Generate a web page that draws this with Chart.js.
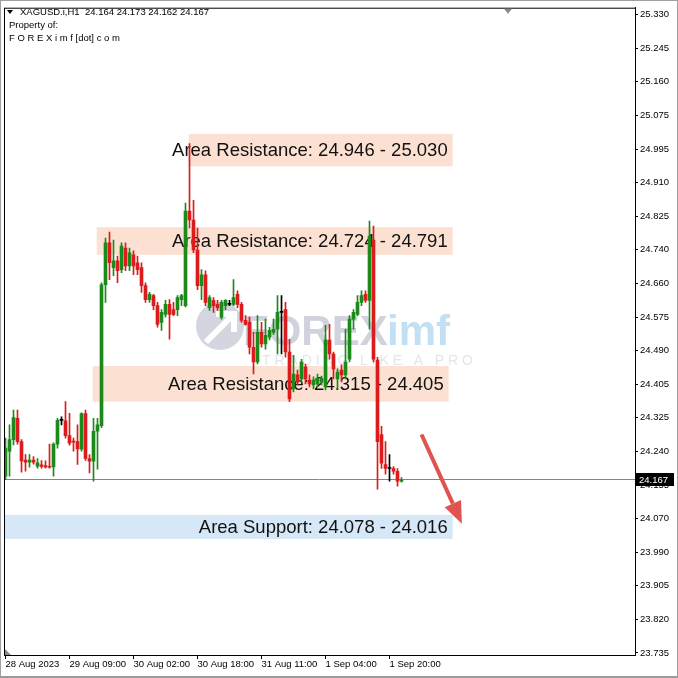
<!DOCTYPE html>
<html>
<head>
<meta charset="utf-8">
<script src="https://cdn.jsdelivr.net/npm/chart.js@4.4.0/dist/chart.umd.min.js"></script>
<style>
  html, body { margin: 0; padding: 0; background: #fff; }
  #wrap { width: 678px; height: 678px; }
</style>
</head>
<body>
<div id="wrap"><canvas id="grafico" width="678" height="678"></canvas></div>
<script>
// XAGUSD H1 - velas leídas a ojo del gráfico (aprox.)
const opens = [
  24.177, 24.239, 24.268, 24.321, 24.263, 24.217, 24.212, 24.217, 24.202, 24.205,
  24.203, 24.201, 24.200, 24.257, 24.316, 24.315, 24.278, 24.263, 24.263, 24.244,
  24.333, 24.221, 24.214, 24.289, 24.303, 24.655, 24.760, 24.698, 24.715, 24.693,
  24.747, 24.702, 24.730, 24.710, 24.698, 24.653, 24.618, 24.628, 24.603, 24.561,
  24.581, 24.606, 24.593, 24.593, 24.618, 24.603, 24.839, 24.817, 24.742, 24.653,
  24.680, 24.598, 24.616, 24.606, 24.574, 24.603, 24.606, 24.606, 24.631, 24.606,
  24.566, 24.561, 24.499, 24.462, 24.536, 24.507, 24.524, 24.536, 24.544, 24.586,
  24.593, 24.487, 24.395, 24.430, 24.420, 24.450, 24.417, 24.405, 24.407, 24.412,
  24.400, 24.517, 24.482, 24.420, 24.442, 24.430, 24.469, 24.569, 24.581, 24.611,
  24.631, 24.616, 24.767, 24.467, 24.281, 24.206, 24.196, 24.196, 24.189, 24.164
];
const highs = [
  24.272, 24.305, 24.342, 24.342, 24.268, 24.231, 24.231, 24.226, 24.221, 24.216,
  24.215, 24.257, 24.260, 24.321, 24.325, 24.363, 24.334, 24.272, 24.305, 24.335,
  24.342, 24.231, 24.321, 24.321, 24.660, 24.772, 24.787, 24.767, 24.727, 24.760,
  24.760, 24.747, 24.740, 24.727, 24.710, 24.660, 24.636, 24.631, 24.611, 24.593,
  24.616, 24.618, 24.611, 24.628, 24.631, 24.859, 25.008, 24.866, 24.797, 24.693,
  24.690, 24.628, 24.623, 24.616, 24.616, 24.618, 24.616, 24.668, 24.640, 24.611,
  24.578, 24.574, 24.536, 24.578, 24.561, 24.569, 24.549, 24.569, 24.628, 24.628,
  24.611, 24.519, 24.479, 24.442, 24.469, 24.457, 24.430, 24.425, 24.432, 24.427,
  24.554, 24.556, 24.487, 24.445, 24.455, 24.544, 24.578, 24.593, 24.628, 24.640,
  24.640, 24.814, 24.802, 24.474, 24.301, 24.263, 24.231, 24.201, 24.196, 24.173
];
const lows = [
  24.168, 24.177, 24.255, 24.257, 24.187, 24.189, 24.199, 24.207, 24.197, 24.197,
  24.197, 24.197, 24.177, 24.247, 24.305, 24.272, 24.254, 24.239, 24.206, 24.239,
  24.216, 24.185, 24.164, 24.194, 24.298, 24.611, 24.668, 24.678, 24.660, 24.685,
  24.690, 24.690, 24.680, 24.680, 24.636, 24.611, 24.611, 24.593, 24.549, 24.541,
  24.574, 24.519, 24.578, 24.578, 24.603, 24.600, 24.797, 24.735, 24.643, 24.618,
  24.603, 24.591, 24.586, 24.591, 24.569, 24.593, 24.603, 24.603, 24.598, 24.561,
  24.554, 24.482, 24.432, 24.457, 24.499, 24.494, 24.517, 24.531, 24.482, 24.482,
  24.474, 24.363, 24.387, 24.405, 24.412, 24.407, 24.400, 24.395, 24.400, 24.405,
  24.392, 24.469, 24.420, 24.395, 24.412, 24.420, 24.462, 24.544, 24.578, 24.603,
  24.611, 24.544, 24.462, 24.144, 24.196, 24.182, 24.164, 24.182, 24.152, 24.162
];
const closes = [
  24.247, 24.268, 24.323, 24.263, 24.215, 24.212, 24.217, 24.212, 24.210, 24.201,
  24.200, 24.199, 24.257, 24.316, 24.316, 24.278, 24.259, 24.262, 24.245, 24.333,
  24.221, 24.214, 24.289, 24.305, 24.655, 24.760, 24.710, 24.715, 24.690, 24.752,
  24.702, 24.735, 24.702, 24.693, 24.653, 24.618, 24.631, 24.603, 24.556, 24.586,
  24.606, 24.581, 24.581, 24.623, 24.628, 24.839, 24.817, 24.742, 24.653, 24.680,
  24.611, 24.623, 24.603, 24.598, 24.611, 24.616, 24.606, 24.623, 24.606, 24.566,
  24.556, 24.499, 24.462, 24.536, 24.507, 24.529, 24.541, 24.544, 24.586, 24.586,
  24.487, 24.370, 24.432, 24.412, 24.462, 24.420, 24.407, 24.417, 24.422, 24.420,
  24.517, 24.482, 24.445, 24.437, 24.430, 24.462, 24.569, 24.586, 24.611, 24.628,
  24.616, 24.777, 24.469, 24.263, 24.209, 24.196, 24.196, 24.189, 24.164, 24.167
];

// eje X (índice de barra) y etiquetas
const xTickIdx = [0, 16, 32, 48, 64, 80, 96];
const xTickLabels = ['28 Aug 2023', '29 Aug 09:00', '30 Aug 02:00', '30 Aug 18:00', '31 Aug 11:00', '1 Sep 04:00', '1 Sep 20:00'];

// eje Y (MT4 redondea, los pasos son iguales en pixeles)
const yTickLabels = ['25.330', '25.245', '25.160', '25.075', '24.995', '24.910', '24.825', '24.740', '24.660', '24.575',
  '24.490', '24.405', '24.325', '24.240', '24.155', '24.070', '23.990', '23.905', '23.820', '23.735'];

// zonas de soporte / resistencia
const zoneTexts = ['Area Resistance: 24.946 - 25.030', 'Area Resistance: 24.724 - 24.791', 'Area Resistance: 24.315 - 24.405', 'Area Support: 24.078 - 24.016'];
const zoneLow = [24.951, 24.730, 24.363, 24.020];
const zoneHigh = [25.032, 24.799, 24.452, 24.080];
const zoneFrom = [45.8, 22.8, 21.8, -0.4];
const zoneTo = [111.8, 111.8, 110.8, 111.8];
const zoneColors = ['#fce1d3', '#fce1d3', '#fce1d3', '#d6e8f7'];

const lastPrice = 24.167;
const arrowX = [104, 114.1];
const arrowY = [24.281, 24.058];

const verde = '#1b8a1b';
const rojo = '#dc1c1c';

function colorVela(i) {
  if (closes[i] > opens[i]) return verde;
  if (closes[i] < opens[i]) return rojo;
  return '#000000';
}

const mechas = opens.map((o, i) => ({ x: i, y: [lows[i], highs[i]] }));
const cuerpos = opens.map((o, i) => ({ x: i, y: [o, closes[i]] }));
const colores = opens.map((o, i) => colorVela(i));

const fuente = '"Liberation Sans", Arial, sans-serif';

const extras = {
  id: 'extras',
  beforeDatasetsDraw(chart) {
    const { ctx, chartArea: a, scales: { x, y } } = chart;
    ctx.save();
    ctx.beginPath();
    ctx.rect(a.left, a.top, a.right - a.left, a.bottom - a.top);
    ctx.clip();

    // marca de agua
    ctx.fillStyle = '#d3d6df';
    ctx.beginPath();
    ctx.arc(220, 326, 24, 0, Math.PI * 2);
    ctx.fill();
    ctx.strokeStyle = '#ffffff';
    ctx.lineWidth = 6;
    ctx.beginPath();
    ctx.moveTo(206, 342);
    ctx.lineTo(232, 316);
    ctx.moveTo(216, 314);
    ctx.lineTo(234, 314);
    ctx.lineTo(234, 332);
    ctx.stroke();
    ctx.font = 'bold 42px ' + fuente;
    ctx.textBaseline = 'alphabetic';
    ctx.textAlign = 'left';
    ctx.fillStyle = '#d0d3dd';
    ctx.fillText('FOREX', 243, 345);
    ctx.fillStyle = '#c2dff3';
    ctx.fillText('imf', 387, 345);
    ctx.font = '14px ' + fuente;
    ctx.fillStyle = '#e3e5ea';
    ctx.fillText('T R A D I N G   L I K E   A   P R O', 262, 365);

    // zonas
    zoneTexts.forEach((t, k) => {
      const x0 = x.getPixelForValue(zoneFrom[k]);
      const x1 = x.getPixelForValue(zoneTo[k]);
      const y0 = y.getPixelForValue(zoneHigh[k]);
      const y1 = y.getPixelForValue(zoneLow[k]);
      ctx.fillStyle = zoneColors[k];
      ctx.fillRect(x0, y0, x1 - x0, y1 - y0);
    });
    ctx.font = '18.5px ' + fuente;
    ctx.textAlign = 'right';
    ctx.textBaseline = 'middle';
    ctx.fillStyle = '#111111';
    zoneTexts.forEach((t, k) => {
      const x1 = x.getPixelForValue(zoneTo[k]);
      const ym = (y.getPixelForValue(zoneHigh[k]) + y.getPixelForValue(zoneLow[k])) / 2;
      ctx.fillText(t, x1 - 5, ym + 1);
    });

    // linea de precio actual
    const yp = Math.floor(y.getPixelForValue(lastPrice)) - 0.5;
    ctx.strokeStyle = '#7a8794';
    ctx.lineWidth = 1;
    ctx.beginPath();
    ctx.moveTo(a.left, yp);
    ctx.lineTo(a.right, yp);
    ctx.stroke();
    ctx.restore();
  },
  afterDatasetsDraw(chart) {
    const { ctx, chartArea: a, scales: { x, y } } = chart;
    ctx.save();
    // flecha roja
    const x0 = x.getPixelForValue(arrowX[0]), y0 = y.getPixelForValue(arrowY[0]);
    const x1 = x.getPixelForValue(arrowX[1]), y1 = y.getPixelForValue(arrowY[1]);
    const ang = Math.atan2(y1 - y0, x1 - x0);
    const largo = 22, ancho = 9;
    const bx = x1 - largo * Math.cos(ang), by = y1 - largo * Math.sin(ang);
    ctx.strokeStyle = '#e05450';
    ctx.fillStyle = '#e05450';
    ctx.lineWidth = 4;
    ctx.beginPath();
    ctx.moveTo(x0, y0);
    ctx.lineTo(bx, by);
    ctx.stroke();
    ctx.beginPath();
    ctx.moveTo(x1, y1);
    ctx.lineTo(bx + ancho * Math.sin(ang), by - ancho * Math.cos(ang));
    ctx.lineTo(bx - ancho * Math.sin(ang), by + ancho * Math.cos(ang));
    ctx.closePath();
    ctx.fill();
    ctx.restore();
  },
  afterDraw(chart) {
    const { ctx, chartArea: a, scales: { y } } = chart;
    ctx.save();
    // marco
    ctx.strokeStyle = '#000000';
    ctx.lineWidth = 1;
    ctx.strokeRect(a.left + 0.5, a.top + 0.5, a.right - a.left, a.bottom - a.top);
    ctx.strokeStyle = '#a0a0a0';
    ctx.strokeRect(0.5, 0.5, 677, 677);
    ctx.fillStyle = '#9a9a9a';
    ctx.fillRect(0, 676, 678, 2);

    // triangulos grises
    ctx.fillStyle = '#8a8a8a';
    ctx.beginPath();
    ctx.moveTo(504, a.top + 1); ctx.lineTo(512, a.top + 1); ctx.lineTo(508, a.top + 6);
    ctx.closePath(); ctx.fill();
    ctx.beginPath();
    ctx.moveTo(a.left + 1, a.bottom - 6); ctx.lineTo(a.left + 1, a.bottom); ctx.lineTo(a.left + 7, a.bottom);
    ctx.closePath(); ctx.fill();

    // etiqueta del precio actual
    const yp = Math.floor(y.getPixelForValue(lastPrice)) - 1;
    ctx.fillStyle = '#000000';
    ctx.fillRect(a.right + 1, yp - 6, 38, 13);
    ctx.fillStyle = '#ffffff';
    ctx.font = '9.5px ' + fuente;
    ctx.textAlign = 'left';
    ctx.textBaseline = 'middle';
    ctx.fillText(lastPrice.toFixed(3), a.right + 4, yp + 1);

    // cabecera
    ctx.fillStyle = '#000000';
    ctx.textBaseline = 'alphabetic';
    ctx.beginPath();
    ctx.moveTo(7, 10); ctx.lineTo(13, 10); ctx.lineTo(10, 14);
    ctx.closePath(); ctx.fill();
    ctx.font = '9.5px ' + fuente;
    ctx.fillText('XAGUSD.i,H1  24.164 24.173 24.162 24.167', 20, 15);
    ctx.fillText('Property of:', 9, 28);
    ctx.fillText('F O R E X i m f [dot] c o m', 9, 41);
    ctx.restore();
  }
};

const ctx = document.getElementById('grafico').getContext('2d');
const chart = new Chart(ctx, {
  type: 'bar',
  data: {
    datasets: [
      {
        label: 'mechas',
        data: mechas,
        backgroundColor: colores,
        barThickness: 1,
        grouped: false,
        order: 2
      },
      {
        label: 'cuerpos',
        data: cuerpos,
        backgroundColor: colores,
        barThickness: 3,
        minBarLength: 1,
        grouped: false,
        order: 1
      }
    ]
  },
  options: {
    responsive: false,
    animation: false,
    devicePixelRatio: 1,
    layout: { padding: { left: 4, top: 3, right: 0, bottom: 0 } },
    plugins: {
      legend: { display: false },
      tooltip: { enabled: false }
    },
    scales: {
      x: {
        type: 'linear',
        offset: false,
        bounds: 'ticks',
        min: -0.375,
        max: 157.375,
        afterBuildTicks: (s) => { s.ticks = xTickIdx.map(v => ({ value: v })); },
        afterFit: (s) => { s.height = 23; },
        ticks: {
          autoSkip: false,
          maxRotation: 0,
          align: 'start',
          padding: 0,
          color: '#000000',
          font: { family: fuente, size: 9.5 },
          callback: (v) => xTickLabels[xTickIdx.indexOf(v)]
        },
        grid: { drawOnChartArea: false, offset: false, tickLength: 4, color: '#000000' },
        border: { color: '#000000' }
      },
      y: {
        type: 'linear',
        position: 'right',
        min: 23.7299,
        max: 25.3474,
        afterBuildTicks: (s) => {
          const paso = (25.330 - 23.735) / (yTickLabels.length - 1);
          s.ticks = yTickLabels.map((t, k) => ({ value: 25.330 - k * paso }));
        },
        afterFit: (s) => { s.width = 43; },
        ticks: {
          autoSkip: false,
          padding: 2,
          color: '#000000',
          font: { family: fuente, size: 9.5 },
          callback: (v, i) => yTickLabels[i]
        },
        grid: { drawOnChartArea: false, tickLength: 3, color: '#000000' },
        border: { color: '#000000' }
      }
    }
  },
  plugins: [extras]
});
</script>
</body>
</html>
